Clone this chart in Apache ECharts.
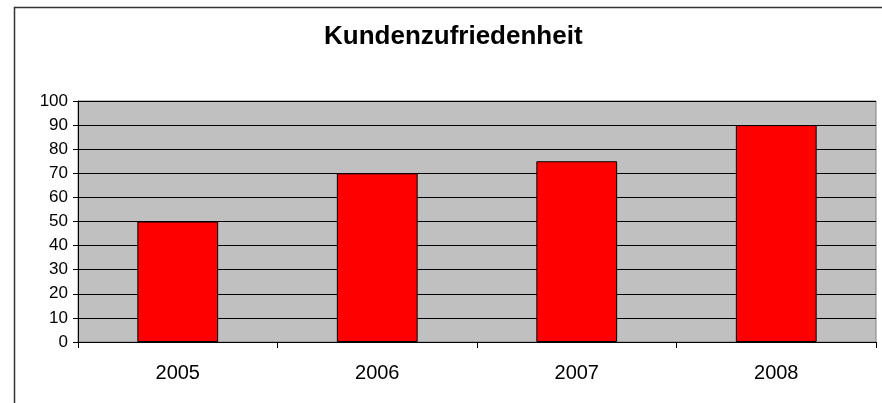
<!DOCTYPE html>
<html>
<head>
<meta charset="utf-8">
<script src="https://cdn.jsdelivr.net/npm/echarts@6/dist/echarts.min.js"></script>
<style>html,body{margin:0;padding:0;background:#fff;}#c{width:882px;height:403px;}</style>
</head>
<body>
<div id="c"></div>
<script>
const titleText = 'Kundenzufriedenheit';
const categories = ['2005', '2006', '2007', '2008'];
const values = [50, 70, 75, 90];
const yMin = 0, yMax = 100, yStep = 10;

const chart = echarts.init(document.getElementById('c'));
chart.setOption({
  animation: false,
  backgroundColor: '#ffffff',
  title: {
    text: titleText,
    left: 324,
    top: 24,
    padding: 0,
    textStyle: { fontFamily: 'Liberation Sans, Arial, sans-serif', fontWeight: 'bold', fontSize: 26, color: '#000' }
  },
  graphic: [{
    type: 'rect',
    shape: { x: 14.5, y: 7.5, width: 900, height: 420 },
    style: { fill: 'none', stroke: '#333', lineWidth: 1.5 },
    silent: true
  }],
  grid: {
    left: 78, right: 6, top: 101, bottom: 61,
    show: true, backgroundColor: '#C0C0C0', borderColor: '#808080', borderWidth: 1
  },
  xAxis: {
    type: 'category',
    data: categories,
    axisLine: { lineStyle: { color: '#000', width: 1 } },
    axisTick: { show: true, alignWithLabel: false, length: 6, lineStyle: { color: '#000' } },
    axisLabel: { fontFamily: 'Liberation Sans, Arial, sans-serif', fontSize: 20, color: '#000', margin: 21 }
  },
  yAxis: {
    type: 'value',
    min: yMin, max: yMax, interval: yStep,
    axisLine: { show: true, lineStyle: { color: '#000', width: 1 } },
    axisTick: { show: true, length: 5, lineStyle: { color: '#000' } },
    splitLine: { show: true, lineStyle: { color: '#000', width: 1 } },
    axisLabel: { fontFamily: 'Liberation Sans, Arial, sans-serif', fontSize: 17, color: '#000', margin: 10 }
  },
  series: [{
    type: 'bar',
    data: values,
    barWidth: '40.5%',
    itemStyle: { color: '#FF0000', borderColor: '#000', borderWidth: 1 }
  }]
});
</script>
</body>
</html>
